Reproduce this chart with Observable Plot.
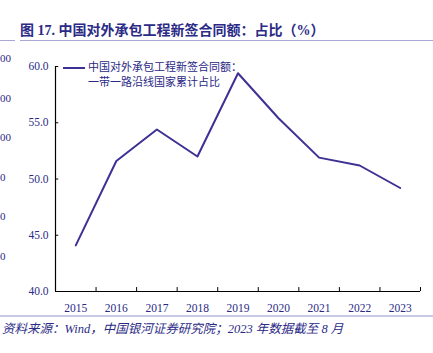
<!DOCTYPE html>
<html>
<head>
<meta charset="utf-8">
<script src="https://cdn.jsdelivr.net/npm/d3@7"></script>
<script src="https://cdn.jsdelivr.net/npm/@observablehq/plot@0.6"></script>
<style>
  html, body { margin: 0; padding: 0; background: #fff; }
  #wrap { position: relative; width: 433px; height: 353px; overflow: hidden;
    font-family: "Liberation Serif", "Noto Sans CJK SC", serif; color: #2b2a86; }
  #title { position: absolute; left: 20px; top: 19px; font-size: 14px; font-weight: bold;
    white-space: nowrap; color: #2b2a86; }
  .rule { position: absolute; height: 1px; background: #a9a7d6; }
  #chart { position: absolute; left: 0; top: 45px; }
  #caption { position: absolute; left: 2px; top: 318px; font-size: 12.5px; font-style: italic;
    white-space: nowrap; color: #2b2a86; }
  #legend { position: absolute; left: 63px; top: 60px; font-size: 11px; line-height: 15px; color: #2b2a86; }
  #legend .sw { position: absolute; left: 0; top: 7px; width: 22px; height: 2px; background: #3d3193; }
  #legend .tx { position: absolute; left: 25px; top: 0; white-space: nowrap; }
  .stray { position: absolute; left: 0; font-size: 11px; color: #2b2a86; white-space: nowrap; }
</style>
</head>
<body>
<div id="wrap">
  <div id="title">图 17. 中国对外承包工程新签合同额：占比（%）</div>
  <div class="rule" style="left:0;width:15px;top:40px"></div>
  <div class="rule" style="left:20px;width:413px;top:40px"></div>
  <div id="chart"></div>
  <div id="legend"><div class="sw"></div><div class="tx">中国对外承包工程新签合同额：<br>一带一路沿线国家累计占比</div></div>
  <div class="rule" style="left:0;width:433px;top:315px;height:2px;background:#c9c8e6"></div>
  <div id="caption">资料来源：Wind，中国银河证券研究院；2023 年数据截至 8 月</div>
</div>
<script>
const years = [2015, 2016, 2017, 2018, 2019, 2020, 2021, 2022, 2023];
const share = [44.1, 51.6, 54.4, 52.0, 59.4, 55.4, 51.9, 51.2, 49.2];
const yTicks = [40, 45, 50, 55, 60];
const strayLabels = ["00", "00", "00", "0", "0", "0"];

const data = years.map((y, i) => ({year: y, value: share[i]}));
const bounds = years.map(y => y - 0.5).concat([years[years.length - 1] + 0.5]);

const wrap = document.getElementById("wrap");
strayLabels.forEach((t, i) => {
  const d = document.createElement("div");
  d.className = "stray";
  d.style.top = (52 + i * 39.5) + "px";
  d.textContent = t;
  wrap.appendChild(d);
});

const chart = Plot.plot({
  width: 433,
  height: 270,
  marginLeft: 55,
  marginRight: 13,
  marginTop: 21,
  marginBottom: 24,
  style: {fontFamily: '"Liberation Serif", "Noto Sans CJK SC", serif', fontSize: "11.5px", color: "#2b2a86", background: "transparent"},
  x: {type: "linear", domain: [bounds[0], bounds[bounds.length - 1]]},
  y: {domain: [40, 60]},
  marks: [
    Plot.axisY({ticks: yTicks, tickFormat: d => d.toFixed(1), tickSize: 0, tickPadding: 7, label: null, fill: "#2b2a86"}),
    Plot.ruleY(yTicks, {y: d => d, x1: bounds[0], x2: bounds[0] + 0.08, stroke: "#000"}),
    Plot.axisX({ticks: years, tickFormat: d => String(d), tickSize: 0, tickPadding: 12, label: null, fill: "#2b2a86"}),
    Plot.ruleX(bounds, {x: d => d, y1: 40, y2: 40.35, stroke: "#000"}),
    Plot.ruleX([bounds[0]], {stroke: "#000", strokeWidth: 1.2}),
    Plot.ruleY([40], {stroke: "#000", strokeWidth: 1.2}),
    Plot.line(data, {x: "year", y: "value", stroke: "#3d3193", strokeWidth: 2})
  ]
});
document.getElementById("chart").appendChild(chart);
</script>
</body>
</html>
